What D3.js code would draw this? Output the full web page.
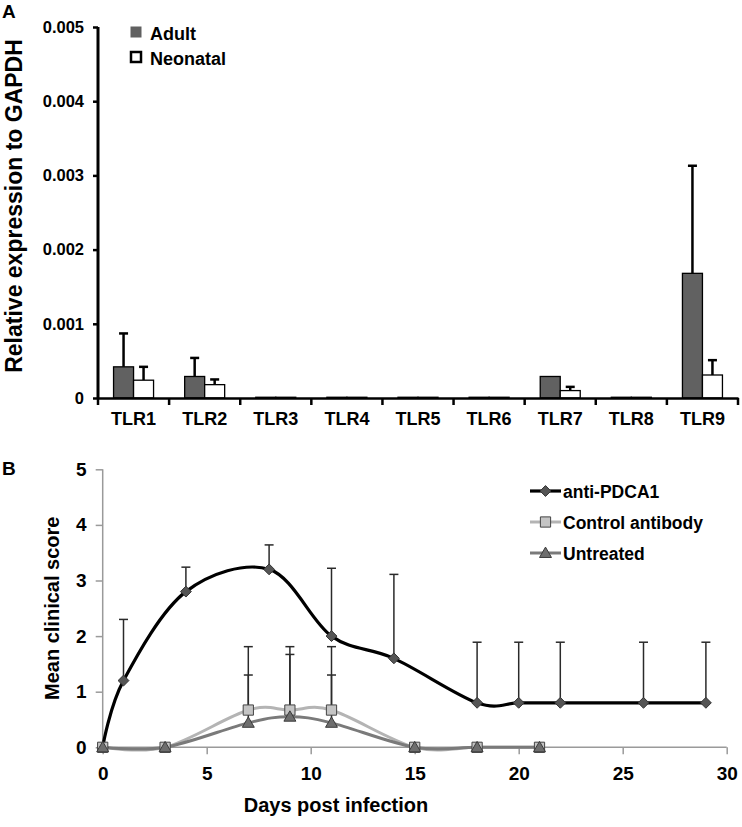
<!DOCTYPE html>
<html>
<head>
<meta charset="utf-8">
<script src="https://cdn.jsdelivr.net/npm/d3@7"></script>
<style>
  html, body { margin: 0; padding: 0; background: #fff; }
  svg text { font-family: "Liberation Sans", Arial, sans-serif; font-weight: bold; fill: #000; }
</style>
</head>
<body>
<svg id="chart" width="742" height="827"></svg>
<script>
// ---------- Panel A data ----------
const tlrCategories = ["TLR1","TLR2","TLR3","TLR4","TLR5","TLR6","TLR7","TLR8","TLR9"];
const groups = ["Adult","Neonatal"];
const adultValues    = [0.00042, 0.00029, 0.00001, 0.00001, 0.00001, 0.00001, 0.00029, 0.00001, 0.00168];
const adultErrTop    = [0.00087, 0.00054, null, null, null, null, null, null, 0.00313];
const neonatalValues = [0.00024, 0.00018, 0.00001, 0.00001, 0.00001, 0.00001, 0.00010, 0.00001, 0.00031];
const neonatalErrTop = [0.00042, 0.00025, null, null, null, null, 0.00015, null, 0.00051];
const yTicksA = [0, 0.001, 0.002, 0.003, 0.004, 0.005];
const yTickLabelsA = ["0", "0.001", "0.002", "0.003", "0.004", "0.005"];

// ---------- Panel B data ----------
const seriesNames = ["anti-PDCA1", "Control antibody", "Untreated"];
const antiDays  = [0, 1, 4, 8, 11, 14, 18, 20, 22, 26, 29];
const antiScore = [0, 1.2, 2.8, 3.2, 2.0, 1.6, 0.8, 0.8, 0.8, 0.8, 0.8];
const antiErrTop = [null, 2.3, 3.24, 3.64, 3.22, 3.11, 1.89, 1.89, 1.89, 1.89, 1.89];
const ctrlDays  = [0, 3, 7, 9, 11, 15, 18, 21];
const ctrlScore = [0, 0, 0.67, 0.67, 0.67, 0, 0, 0];
const ctrlErrTop = [null, null, 1.81, 1.81, 1.81, null, null, null];
const untrDays  = [0, 3, 7, 9, 11, 15, 18, 21];
const untrScore = [0, 0, 0.44, 0.55, 0.44, 0, 0, 0];
const untrErrTop = [null, null, 1.3, 1.67, 1.3, null, null, null];
const xTicksB = [0, 5, 10, 15, 20, 25, 30];
const yTicksB = [0, 1, 2, 3, 4, 5];

const svg = d3.select("#chart");
const FONT = "Liberation Sans, Arial, sans-serif";

// =============== PANEL A ===============
const A = { left: 98, right: 738, top: 27, bottom: 398 };
const xA = d3.scaleBand().domain(tlrCategories).range([A.left, A.right]).padding(0);
const xSub = d3.scaleBand().domain(groups).range([xA.bandwidth()/2 - 20, xA.bandwidth()/2 + 20]);
const yA = d3.scaleLinear().domain([0, 0.005]).range([A.bottom, A.top]);
const gA = svg.append("g");

svg.append("text").attr("x", 2).attr("y", 18).style("font-size", "19px").text("A");

const barData = [];
tlrCategories.forEach((c, i) => {
  barData.push({cat: c, grp: "Adult", v: adultValues[i], e: adultErrTop[i]});
  barData.push({cat: c, grp: "Neonatal", v: neonatalValues[i], e: neonatalErrTop[i]});
});

// error bars (upper)
const errA = gA.append("g").attr("stroke", "#000").attr("stroke-width", 2.5);
barData.filter(d => d.e != null).forEach(d => {
  const cx = xA(d.cat) + xSub(d.grp) + xSub.bandwidth()/2;
  errA.append("line").attr("x1", cx).attr("x2", cx).attr("y1", yA(d.v)).attr("y2", yA(d.e));
  errA.append("line").attr("x1", cx - 4.5).attr("x2", cx + 4.5).attr("y1", yA(d.e)).attr("y2", yA(d.e));
});

gA.append("g").selectAll("rect").data(barData).join("rect")
  .attr("x", d => xA(d.cat) + xSub(d.grp))
  .attr("width", xSub.bandwidth())
  .attr("y", d => yA(d.v))
  .attr("height", d => yA(0) - yA(d.v))
  .attr("fill", d => d.grp === "Adult" ? "#616161" : "#ffffff")
  .attr("stroke", "#000")
  .attr("stroke-width", 1.3);

// Y axis A
const yAxisA = gA.append("g").attr("transform", `translate(${A.left},0)`)
  .call(d3.axisLeft(yA).tickValues(yTicksA).tickFormat((d, i) => yTickLabelsA[i]).tickSize(5).tickPadding(9));
yAxisA.select(".domain").attr("stroke", "#000").attr("stroke-width", 3).attr("d", `M0,${A.top}V${A.bottom}`);
yAxisA.selectAll(".tick line").attr("stroke", "#000").attr("stroke-width", 2.5);
yAxisA.selectAll(".tick text").style("font-size", "16.5px").style("font-family", FONT).style("font-weight", "bold").attr("fill", "#000");

// X axis A
const xAxisA = gA.append("g").attr("transform", `translate(0,${A.bottom})`)
  .call(d3.axisBottom(xA).tickSize(0).tickPadding(14));
xAxisA.select(".domain").attr("stroke", "#000").attr("stroke-width", 2.5);
xAxisA.selectAll(".tick text").style("font-size", "18px").style("font-family", FONT).style("font-weight", "bold").attr("fill", "#000");
// category separator ticks
const sepA = gA.append("g").attr("stroke", "#000").attr("stroke-width", 2.5);
tlrCategories.forEach(c => {
  const x = xA(c);
  sepA.append("line").attr("x1", x).attr("x2", x).attr("y1", A.bottom).attr("y2", A.bottom + 7);
});
sepA.append("line").attr("x1", A.right).attr("x2", A.right).attr("y1", A.bottom).attr("y2", A.bottom + 7);

// Y title A
svg.append("text").attr("transform", `translate(22,206) rotate(-90)`)
  .attr("text-anchor", "middle").style("font-size", "23px").text("Relative expression to GAPDH");

// Legend A
const legA = svg.append("g");
groups.forEach((g, i) => {
  legA.append("rect").attr("x", 131).attr("y", 27 + i*25).attr("width", 10).attr("height", 10)
    .attr("fill", g === "Adult" ? "#616161" : "#fff")
    .attr("stroke", g === "Adult" ? "#616161" : "#000").attr("stroke-width", g === "Adult" ? 1 : 2.5);
  legA.append("text").attr("x", 150).attr("y", 39.5 + i*25).style("font-size", "18px").text(g);
});

// =============== PANEL B ===============
const B = { left: 102.7, right: 726.7, top: 469.3, bottom: 747.3 };
const xB = d3.scaleLinear().domain([0, 30]).range([B.left, B.right]);
const yB = d3.scaleLinear().domain([0, 5]).range([B.bottom, B.top]);
const gB = svg.append("g");

svg.append("text").attr("x", 2).attr("y", 475).style("font-size", "19px").text("B");

const axisGray = "#9a9a9a";
const xAxisB = gB.append("g").attr("transform", `translate(0,${B.bottom})`)
  .call(d3.axisBottom(xB).tickValues(xTicksB).tickFormat(d3.format("d")).tickSize(7).tickPadding(12));
xAxisB.select(".domain").attr("stroke", axisGray).attr("stroke-width", 1.5).attr("d", `M${B.left},0H${B.right}`);
xAxisB.selectAll(".tick line").attr("stroke", axisGray).attr("stroke-width", 1.5);
xAxisB.selectAll(".tick text").style("font-size", "19px").style("font-family", FONT).style("font-weight", "bold").attr("fill", "#000");

const yAxisB = gB.append("g").attr("transform", `translate(${B.left},0)`)
  .call(d3.axisLeft(yB).tickValues(yTicksB).tickFormat(d3.format("d")).tickSize(7).tickPadding(9));
yAxisB.select(".domain").attr("stroke", axisGray).attr("stroke-width", 1.5).attr("d", `M0,${B.top}V${B.bottom}`);
yAxisB.selectAll(".tick line").attr("stroke", axisGray).attr("stroke-width", 1.5);
yAxisB.selectAll(".tick text").style("font-size", "19px").style("font-family", FONT).style("font-weight", "bold").attr("fill", "#000");

svg.append("text").attr("x", 336).attr("y", 812).attr("text-anchor", "middle")
  .style("font-size", "20px").text("Days post infection");
svg.append("text").attr("transform", `translate(59,${(B.top + B.bottom)/2}) rotate(-90)`)
  .attr("text-anchor", "middle").style("font-size", "20px").text("Mean clinical score");

const series = [
  { name: seriesNames[0], days: antiDays, vals: antiScore, err: antiErrTop, line: "#000", lw: 3.2, sym: d3.symbolDiamond2, fill: "#555", stroke: "#333", size: 75 },
  { name: seriesNames[1], days: ctrlDays, vals: ctrlScore, err: ctrlErrTop, line: "#b4b4b4", lw: 3, sym: d3.symbolSquare, fill: "#c4c4c4", stroke: "#444", size: 105 },
  { name: seriesNames[2], days: untrDays, vals: untrScore, err: untrErrTop, line: "#7a7a7a", lw: 3, sym: d3.symbolTriangle, fill: "#6e6e6e", stroke: "#3a3a3a", size: 62 }
];

// error bars
const errB = gB.append("g").attr("stroke", "#2a2a2a").attr("stroke-width", 1.5);
series.forEach(s => {
  s.days.forEach((d, i) => {
    if (s.err[i] == null) return;
    const cx = xB(d);
    errB.append("line").attr("x1", cx).attr("x2", cx).attr("y1", yB(s.vals[i])).attr("y2", yB(s.err[i]));
    errB.append("line").attr("x1", cx - 4.5).attr("x2", cx + 4.5).attr("y1", yB(s.err[i])).attr("y2", yB(s.err[i]));
  });
});

const lineGen = d3.line().x(d => xB(d[0])).y(d => yB(d[1])).curve(d3.curveCardinal.tension(0));
series.forEach(s => {
  gB.append("path").attr("d", lineGen(s.days.map((d, i) => [d, s.vals[i]])))
    .attr("fill", "none").attr("stroke", s.line).attr("stroke-width", s.lw);
});
series.forEach(s => {
  const sym = d3.symbol().type(s.sym).size(s.size);
  gB.append("g").selectAll("path").data(s.days.map((d, i) => [d, s.vals[i]])).join("path")
    .attr("transform", d => `translate(${xB(d[0])},${yB(d[1]) + (s.sym === d3.symbolTriangle ? 1 : 0)})`)
    .attr("d", sym()).attr("fill", s.fill).attr("stroke", s.stroke).attr("stroke-width", 1);
});

// Legend B
const legB = svg.append("g");
series.forEach((s, i) => {
  const y = 491 + i*31;
  legB.append("line").attr("x1", 530).attr("x2", 561).attr("y1", y).attr("y2", y)
    .attr("stroke", s.line).attr("stroke-width", s.lw);
  legB.append("path").attr("transform", `translate(545.5,${y + (s.sym === d3.symbolTriangle ? 1 : 0)})`)
    .attr("d", d3.symbol().type(s.sym).size(s.size)()).attr("fill", s.fill).attr("stroke", s.stroke).attr("stroke-width", 1);
  legB.append("text").attr("x", 563).attr("y", y + 6.5).style("font-size", "17.5px").text(s.name);
});
</script>
</body>
</html>
